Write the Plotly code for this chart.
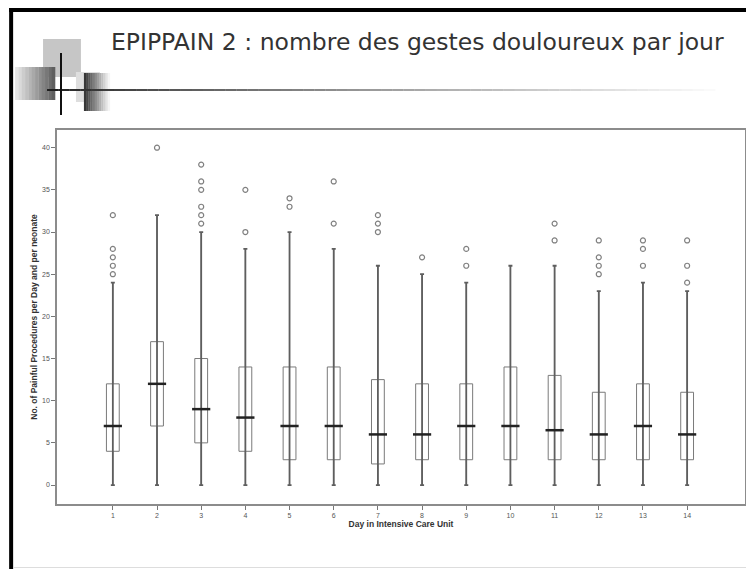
import plotly.graph_objects as go

# ---------------- data ----------------
days = list(range(1, 15))
q1 = [4, 7, 5, 4, 3, 3, 2.5, 3, 3, 3, 3, 3, 3, 3]
median = [7, 12, 9, 8, 7, 7, 6, 6, 7, 7, 6.5, 6, 7, 6]
q3 = [12, 17, 15, 14, 14, 14, 12.5, 12, 12, 14, 13, 11, 12, 11]
lower_whisker = [0] * 14
upper_whisker = [24, 32, 30, 28, 30, 28, 26, 25, 24, 26, 26, 23, 24, 23]
outliers = [
    [25, 26, 27, 28, 32],
    [40],
    [31, 32, 33, 35, 36, 38],
    [30, 35],
    [33, 34],
    [31, 36],
    [30, 31, 32],
    [27],
    [26, 28],
    [],
    [29, 31],
    [25, 26, 27, 29],
    [26, 28, 29],
    [24, 26, 29],
]
y_ticks = [0, 5, 10, 15, 20, 25, 30, 35, 40]

slide_title = "EPIPPAIN 2 : nombre des gestes douloureux par jour"
x_title = "Day in Intensive Care Unit"
y_title = "No. of Painful Procedures per Day and per neonate"

# ---------------- layout geometry (window pixel coords) ----------------
OFF = 8                      # page body margin
WIN_W, WIN_H = 754, 569
W, H = WIN_W - OFF, WIN_H - OFF
L, R, T, B = 57, 747, 130, 504   # plot frame in window coords


def px(x):
    return (x - L) / (R - L)


def py(y):
    return (B - y) / (B - T)


fig = go.Figure()

# boxes (transparent so whisker line shows through, as in the reference)
fig.add_trace(go.Box(
    x=days, q1=q1, median=median, q3=q3,
    lowerfence=lower_whisker, upperfence=upper_whisker,
    width=0.29, whiskerwidth=0,
    fillcolor="rgba(0,0,0,0)",
    line=dict(color="#7a7a7a", width=1),
    showlegend=False, hoverinfo="skip",
))

# whiskers with caps
fig.add_trace(go.Scatter(
    x=days, y=median, mode="markers",
    marker=dict(size=1, color="rgba(0,0,0,0)"),
    error_y=dict(type="data", symmetric=False,
                 array=[u - m for u, m in zip(upper_whisker, median)],
                 arrayminus=[m - lo for m, lo in zip(median, lower_whisker)],
                 color="#5e5e5e", thickness=1.8, width=2),
    showlegend=False, hoverinfo="skip",
))

# median bars
fig.add_trace(go.Scatter(
    x=days, y=median, mode="markers",
    marker=dict(symbol="line-ew", size=13, line=dict(color="#222", width=2.5)),
    showlegend=False, hoverinfo="skip",
))

# outliers
ox, oy = [], []
for d, vals in zip(days, outliers):
    for v in vals:
        ox.append(d)
        oy.append(v)
fig.add_trace(go.Scatter(
    x=ox, y=oy, mode="markers",
    marker=dict(symbol="circle-open", size=5, color="#808080", line=dict(width=1.2)),
    showlegend=False, hoverinfo="skip",
))

# ---------------- slide decoration ----------------
shapes = []


def rect(x0, y0, x1, y1, color):
    shapes.append(dict(type="rect", xref="paper", yref="paper",
                       x0=px(x0), x1=px(x1), y0=py(y0), y1=py(y1),
                       fillcolor=color, line=dict(width=0), layer="above"))


def lerp_gray(a, b, t):
    v = int(round(a + (b - a) * t))
    return f"rgb({v},{v},{v})"


# slide frame
rect(9, 7, WIN_W, 12, "black")
rect(9, 7, 13, WIN_H, "black")
rect(13, 567, WIN_W, 568, "#dddddd")

# logo squares
rect(43, 39, 81, 77, "#c6c6c6")
rect(76, 72, 100, 102, "#dedede")
n = 12
for i in range(n):
    x0 = 15 + (55 - 15) * i / n
    x1 = 15 + (55 - 15) * (i + 1) / n
    rect(x0, 67, x1 + 0.3, 100, lerp_gray(230, 95, i / (n - 1)))
for i in range(n):
    x0 = 84 + (110 - 84) * i / n
    x1 = 84 + (110 - 84) * (i + 1) / n
    rect(x0, 73, x1 + 0.3, 111, lerp_gray(55, 245, i / (n - 1)))

# horizontal fading rule
segs = 60
for i in range(segs):
    x0 = 47 + (717 - 47) * i / segs
    x1 = 47 + (717 - 47) * (i + 1) / segs
    t = i / (segs - 1)
    rect(x0, 89, x1 + 0.3, 91, lerp_gray(30, 250, t ** 0.8))

# vertical black line
rect(60, 53, 62, 115, "#111111")

fig.update_layout(
    width=W, height=H, autosize=False,
    margin=dict(l=L - OFF, r=W - (R - OFF), t=T - OFF, b=H - (B - OFF)),
    paper_bgcolor="white", plot_bgcolor="white",
    shapes=shapes,
    font=dict(family="Liberation Sans, Arial, sans-serif", color="#444"),
    annotations=[dict(
        text=slide_title, xref="paper", yref="paper",
        x=px(109), y=py(42), xanchor="left", yanchor="middle",
        showarrow=False,
        font=dict(family="DejaVu Sans, Verdana, sans-serif", size=23.5, color="#333"),
    )],
    xaxis=dict(
        range=[-0.264, 15.31], tickmode="array", tickvals=days,
        ticktext=[str(d) for d in days],
        ticks="outside", ticklen=4, tickcolor="#777", tickwidth=1,
        tickfont=dict(size=7, color="#555"),
        showline=True, linecolor="#8c8c8c", linewidth=1.5, mirror=True,
        showgrid=False, zeroline=False,
        title=dict(text=x_title, standoff=2,
                   font=dict(size=8.5, color="#333", weight="bold")),
    ),
    yaxis=dict(
        range=[-2.25, 42.1], tickmode="array", tickvals=y_ticks,
        ticktext=[str(v) for v in y_ticks],
        ticks="outside", ticklen=4, tickcolor="#777", tickwidth=1,
        tickfont=dict(size=7, color="#555"),
        showline=True, linecolor="#8c8c8c", linewidth=1.5, mirror=True,
        showgrid=False, zeroline=False,
        title=dict(text=y_title, standoff=3,
                   font=dict(size=8.5, color="#333", weight="bold")),
    ),
)

fig.write_html("out.html")
